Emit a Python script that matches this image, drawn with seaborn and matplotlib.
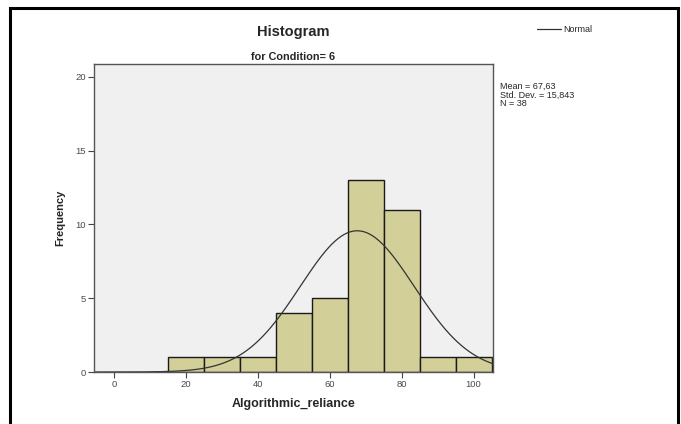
import numpy as np
import matplotlib
matplotlib.use("Agg")
import matplotlib.pyplot as plt
from matplotlib.patches import Rectangle
from matplotlib.lines import Line2D
import seaborn as sns

# Histogram bins and counts for Algorithmic_reliance (Condition = 6)
bin_edges = [15, 25, 35, 45, 55, 65, 75, 85, 95, 105]
counts = [1, 1, 1, 4, 5, 13, 11, 1, 1]
mean_value = 67.63
std_dev = 15.843
n_obs = 38

x_ticks = [0, 20, 40, 60, 80, 100]
y_ticks = [0, 5, 10, 15, 20]

sns.set_style("white")
plt.rcParams["font.family"] = ["Liberation Sans", "DejaVu Sans"]

W, H = 681, 424
fig = plt.figure(figsize=(W / 100, H / 100), dpi=100)
ax = fig.add_axes([94 / W, 1 - 372 / H, (493 - 94) / W, (372 - 64) / H])
ax.set_facecolor("#F0F0F0")

bin_mids = [(a + b) / 2 for a, b in zip(bin_edges[:-1], bin_edges[1:])]
sns.histplot(x=bin_mids, weights=counts, bins=bin_edges, ax=ax,
             color="#D3CF98", edgecolor="#1a1a1a", linewidth=1.0, alpha=1.0)

# Fitted normal curve, scaled to the histogram counts
bin_width = bin_edges[1] - bin_edges[0]
xlim = (-5.6, 105.4)
xs = np.linspace(xlim[0], xlim[1], 400)
ys = n_obs * bin_width * np.exp(-0.5 * ((xs - mean_value) / std_dev) ** 2) / (std_dev * np.sqrt(2 * np.pi))
sns.lineplot(x=xs, y=ys, ax=ax, color="#333333", linewidth=0.9)

ax.set_xlim(*xlim)
ax.set_ylim(0, 20.87)
ax.set_xticks(x_ticks)
ax.set_yticks(y_ticks)
ax.tick_params(axis="both", which="both", direction="out", length=4, width=0.8,
               color="#444444", labelsize=6.8, labelcolor="#4a4a4a", pad=2,
               bottom=True, left=True)
for side in ax.spines.values():
    side.set_color("#555555")
    side.set_linewidth(1.0)

ax.set_xlabel("Algorithmic_reliance", fontsize=9, fontweight="bold", labelpad=6)
ax.set_ylabel("Frequency", fontsize=8, fontweight="bold", labelpad=7)

cx = (94 + 493) / 2 / W
fig.text(cx, 1 - 32 / H, "Histogram", ha="center", va="center",
         fontsize=10.5, fontweight="bold")
fig.text(cx, 1 - 57 / H, "for Condition= 6", ha="center", va="center",
         fontsize=7.8, fontweight="bold")

# Legend entry for the normal curve
fig.add_artist(Line2D([537 / W, 561 / W], [1 - 29 / H, 1 - 29 / H],
                      color="#333333", linewidth=0.9))
fig.text(563 / W, 1 - 29 / H, "Normal", ha="left", va="center", fontsize=6.5)

stats = f"Mean = {mean_value:.2f}\nStd. Dev. = {std_dev:.3f}\nN = {n_obs}".replace(".", ",")
stats = stats.replace("Std, Dev,", "Std. Dev.")
fig.text(500 / W, 1 - 82 / H, stats, ha="left", va="top", fontsize=6.5,
         linespacing=0.95)

# Outer frame
fig.add_artist(Rectangle((10 / W, -0.1), (678 - 10) / W, 1.1 - 8 / H,
                         transform=fig.transFigure, fill=False,
                         edgecolor="black", linewidth=2.2))

fig.savefig("out.png", dpi=100)
